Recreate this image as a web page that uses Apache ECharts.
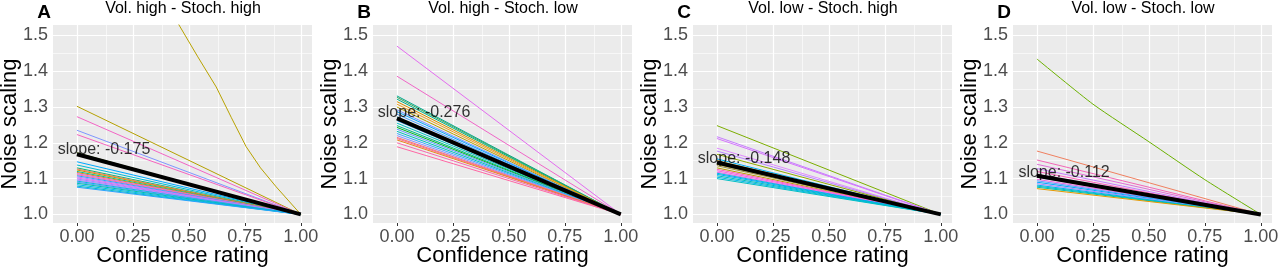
<!DOCTYPE html>
<html>
<head>
<meta charset="utf-8">
<script src="https://cdn.jsdelivr.net/npm/echarts@6/dist/echarts.min.js"></script>
<style>
html,body{margin:0;padding:0;background:#fff;}
#chart{width:1280px;height:270px;}
</style>
</head>
<body>
<div id="chart"></div>
<script>
// ---------- data ----------
const xTicks = [0, 0.25, 0.5, 0.75, 1];
const yTicks = [1.0, 1.1, 1.2, 1.3, 1.4, 1.5];
const xMinor = [0.125, 0.375, 0.625, 0.875];
const yMinor = [1.05, 1.15, 1.25, 1.35, 1.45];

const letters = ['A', 'B', 'C', 'D'];
const titles = ['Vol. high - Stoch. high', 'Vol. high - Stoch. low', 'Vol. low - Stoch. high', 'Vol. low - Stoch. low'];
const slopeTexts = ['slope: -0.175', 'slope: -0.276', 'slope: -0.148', 'slope: -0.112'];
const slopeLabelY = [1.180, 1.283, 1.157, 1.118];
const meanStart = [1.168, 1.268, 1.145, 1.108];

// per-subject start values at confidence 0 (all end at 1.0 at confidence 1)
const startA = [1.302, 1.273, 1.235, 1.223, 1.172, 1.147, 1.138, 1.130, 1.127, 1.124, 1.120, 1.117, 1.114, 1.111, 1.108, 1.105, 1.102, 1.099, 1.096, 1.093, 1.090, 1.087, 1.083, 1.079, 1.076];
const colorA = ['#B5A000', '#F365C5', '#7F96FF', '#F564C0', '#6FB000', '#00A8FF', '#00BCD6', '#00BE70', '#F8766D', '#C99800', '#00C0A0', '#E7861A', '#D070F0', '#FF6A9A', '#22A6FF', '#A58AFF', '#E76BF3', '#9D8AFF', '#BB81FF', '#00BADE', '#4FA0FF', '#00C1A9', '#00B4F0', '#00BFC4', '#29A3FF'];

const startB = [1.470, 1.386, 1.331, 1.327, 1.322, 1.315, 1.308, 1.300, 1.292, 1.287, 1.280, 1.272, 1.262, 1.255, 1.248, 1.243, 1.238, 1.232, 1.226, 1.220, 1.215, 1.212, 1.208, 1.200, 1.189];
const colorB = ['#E46DF0', '#F066C8', '#00A98F', '#3BA55C', '#00B38A', '#D89000', '#F0A020', '#B7A000', '#7F96FF', '#00A6FF', '#4AA0FF', '#00B8E5', '#2FA7FF', '#00BFC4', '#00BA87', '#00B81F', '#619CFF', '#00C0B8', '#39A8FF', '#8F91FF', '#F8766D', '#FF6C91', '#E7861B', '#F46BAE', '#FF67A4'];

const startC = [1.248, 1.217, 1.212, 1.185, 1.177, 1.168, 1.155, 1.150, 1.140, 1.136, 1.130, 1.126, 1.122, 1.118, 1.115, 1.112, 1.108, 1.104, 1.100];
const colorC = ['#7CAE00', '#C77CFF', '#D575FE', '#E08BFF', '#B983FF', '#8FAA00', '#00B0F6', '#C09B00', '#A3A500', '#9C8D3A', '#B79F00', '#FF61C3', '#F564E3', '#E76BF3', '#00BCD8', '#00A9FF', '#00C0B8', '#00B6EB', '#00BFC4'];

const startD = [1.177, 1.152, 1.140, 1.128, 1.120, 1.112, 1.104, 1.098, 1.094, 1.090, 1.086, 1.082, 1.079, 1.076, 1.072];
const colorD = ['#F08060', '#F366B8', '#E06FD9', '#C77CFF', '#FF62BC', '#E76BF3', '#B983FF', '#F564E3', '#619CFF', '#00A9FF', '#A58AFF', '#00B0F6', '#00BFC4', '#00C0AF', '#E69A00'];

// strongly curved subjects (read at several confidence values)
const curveA = [[0.40, 1.60], [0.455, 1.53], [0.54, 1.44], [0.622, 1.356], [0.69, 1.27], [0.756, 1.189], [0.82, 1.13], [0.890, 1.077], [1, 1]];
const curveAColor = '#B8A200';
const curveD = [[0, 1.434], [0.25, 1.308], [0.5, 1.203], [0.75, 1.097], [1, 1]];
const curveDColor = '#6BB100';

const starts = [startA, startB, startC, startD];
const colors = [colorA, colorB, colorC, colorD];
const curves = [[[curveA, curveAColor]], [], [], [[curveD, curveDColor]]];

// ---------- layout ----------
const panelW = 320, gLeft = 53, gWidth = 259, gTop = 25, gHeight = 198;
const FONT = '"Liberation Sans", Arial, sans-serif';

const grids = [], xAxes = [], yAxes = [], series = [], graphics = [];

for (let i = 0; i < 4; i++) {
  const left = i * panelW + gLeft;
  grids.push({left: left, top: gTop, width: gWidth, height: gHeight, show: true,
    backgroundColor: '#EBEBEB', borderWidth: 0, containLabel: false, outerBoundsMode: 'none'});
  xAxes.push({
    type: 'value', gridIndex: i, min: -0.107, max: 1.05,
    axisLine: {show: false},
    axisTick: {show: true, length: 3, lineStyle: {color: '#333333', width: 1}, customValues: xTicks},
    axisLabel: {show: true, customValues: xTicks, formatter: v => v.toFixed(2), color: '#4D4D4D',
      fontSize: 18, fontFamily: FONT, margin: 5},
    splitLine: {show: false},
    name: 'Confidence rating', nameLocation: 'middle', nameGap: 22, nameMoveOverlap: false,
    nameTextStyle: {fontSize: 22, fontFamily: FONT, color: '#000'}
  });
  yAxes.push({
    type: 'value', gridIndex: i, min: 0.976, max: 1.529,
    axisLine: {show: false},
    axisTick: {show: true, length: 3, lineStyle: {color: '#333333', width: 1}, customValues: yTicks},
    axisLabel: {show: true, customValues: yTicks, formatter: v => v.toFixed(1), color: '#4D4D4D',
      fontSize: 18, fontFamily: FONT, margin: 5},
    splitLine: {show: false},
    name: 'Noise scaling', nameLocation: 'middle', nameGap: 32, nameRotate: 90, nameMoveOverlap: false,
    nameTextStyle: {fontSize: 22, fontFamily: FONT, color: '#000'}
  });

  // grid lines
  const gl = [];
  xMinor.forEach(v => gl.push({xAxis: v, lineStyle: {width: 0.6}}));
  yMinor.forEach(v => gl.push({yAxis: v, lineStyle: {width: 0.6}}));
  xTicks.forEach(v => gl.push({xAxis: v, lineStyle: {width: 1.2}}));
  yTicks.forEach(v => gl.push({yAxis: v, lineStyle: {width: 1.2}}));
  series.push({
    type: 'line', xAxisIndex: i, yAxisIndex: i, data: [], silent: true, z: 1,
    symbol: 'none',
    markLine: {silent: true, z: 1, symbol: ['none', 'none'], animation: false, label: {show: false},
      lineStyle: {color: '#FFFFFF', type: 'solid', opacity: 1}, emphasis: {disabled: true}, data: gl}
  });

  // subject lines
  starts[i].forEach((y0, k) => {
    series.push({type: 'line', xAxisIndex: i, yAxisIndex: i, data: [[0, y0], [1, 1]],
      symbol: 'none', silent: true, z: 3, clip: true,
      lineStyle: {width: 1, color: colors[i][k]}});
  });
  curves[i].forEach(c => {
    series.push({type: 'line', xAxisIndex: i, yAxisIndex: i, data: c[0], smooth: i === 3 ? 0.2 : false,
      symbol: 'none', silent: true, z: 3, clip: true,
      lineStyle: {width: 1, color: c[1]}});
  });
  // mean line
  series.push({type: 'line', xAxisIndex: i, yAxisIndex: i, data: [[0, meanStart[i]], [1, 1]],
    symbol: 'none', silent: true, z: 5, clip: true,
    lineStyle: {width: 4, color: '#000000'}});
  // slope label
  series.push({type: 'scatter', xAxisIndex: i, yAxisIndex: i, data: [[0.121, slopeLabelY[i]]],
    symbolSize: 0, silent: true, z: 6,
    label: {show: true, position: 'inside', formatter: slopeTexts[i], color: '#000',
      textBorderWidth: 0, fontSize: 16, fontFamily: FONT}});

  graphics.push({type: 'text', x: i * panelW + 183, y: 9, silent: true,
    style: {text: titles[i], fill: '#000', font: '16px ' + FONT, textAlign: 'center', textVerticalAlign: 'middle'}});
  graphics.push({type: 'text', x: i * panelW + 44, y: 13, silent: true,
    style: {text: letters[i], fill: '#000', font: 'bold 19px ' + FONT, textAlign: 'center', textVerticalAlign: 'middle'}});
}

const chart = echarts.init(document.getElementById('chart'), null, {renderer: 'canvas'});
chart.setOption({
  animation: false,
  backgroundColor: '#FFFFFF',
  grid: grids, xAxis: xAxes, yAxis: yAxes, series: series, graphic: graphics
});
</script>
</body>
</html>
